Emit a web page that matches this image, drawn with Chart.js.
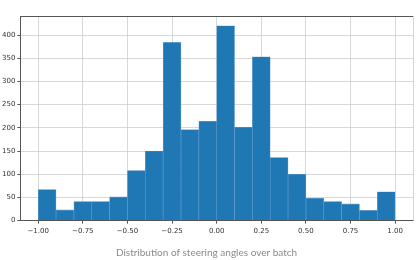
<!DOCTYPE html>
<html>
<head>
<meta charset="utf-8">
<script src="https://cdn.jsdelivr.net/npm/chart.js@4"></script>
<style>
  html, body { margin: 0; padding: 0; background: #fff; }
  #wrap { width: 419px; height: 260px; }
</style>
</head>
<body>
<div id="wrap"><canvas id="histChart"></canvas></div>
<script>
// ===========================
// DATA
// ===========================
const binStarts = [-1.0, -0.9, -0.8, -0.7, -0.6, -0.5, -0.4, -0.3, -0.2, -0.1,
                    0.0,  0.1,  0.2,  0.3,  0.4,  0.5,  0.6,  0.7,  0.8,  0.9];
const counts    = [  67,   23,   41,   41,   51,  108,  150,  384,  196,  214,
                    420,  201,  353,  136,  100,   48,   41,   36,   22,   62];
const binWidth  = 0.1;
const xTicks    = [-1.0, -0.75, -0.5, -0.25, 0.0, 0.25, 0.5, 0.75, 1.0];
const yTicks    = [0, 50, 100, 150, 200, 250, 300, 350, 400];
const titleText = 'Distribution of steering angles over batch';

// ===========================
// FRAME (top + right spines)
// ===========================
const framePlugin = {
  id: 'frame',
  afterDraw(chart) {
    const { ctx, chartArea: a } = chart;
    ctx.save();
    ctx.lineWidth = 1;
    ctx.strokeStyle = '#d6d6d6';
    ctx.beginPath();
    ctx.moveTo(a.right + 0.5, a.top);
    ctx.lineTo(a.right + 0.5, a.bottom);
    ctx.stroke();
    ctx.strokeStyle = '#555';
    ctx.beginPath();
    ctx.moveTo(a.left, a.top + 0.5);
    ctx.lineTo(a.right, a.top + 0.5);
    ctx.stroke();
    ctx.restore();
  }
};

const tickFont = { family: 'DejaVu Sans', size: 7 };
const fmt = v => v.toFixed(2).replace('-', '\u2212');

new Chart(document.getElementById('histChart'), {
  type: 'bar',
  data: {
    datasets: [{
      data: binStarts.map((s, i) => ({ x: s + binWidth / 2, y: counts[i] })),
      backgroundColor: '#1f77b4',
      borderColor: 'rgba(80,145,205,0.8)',
      borderWidth: 0.6,
      barPercentage: 1,
      categoryPercentage: 1,
      grouped: false
    }]
  },
  options: {
    responsive: true,
    maintainAspectRatio: false,
    animation: false,
    layout: { padding: { top: 16, right: 6, left: 0, bottom: 0 } },
    plugins: {
      legend: { display: false },
      tooltip: { enabled: false },
      title: {
        display: true,
        position: 'bottom',
        text: titleText,
        color: '#8a8a8a',
        font: { family: 'Lato', size: 10, weight: 'normal' },
        padding: { top: 9, bottom: 1 }
      }
    },
    scales: {
      x: {
        type: 'linear',
        min: -1.1, max: 1.1,
        offset: false,
        z: 1,
        afterBuildTicks: axis => { axis.ticks = xTicks.map(v => ({ value: v })); },
        ticks: { font: tickFont, color: '#333', padding: 3, maxRotation: 0, callback: v => fmt(v) },
        grid: { offset: false, color: 'rgba(200,200,200,0.7)', tickLength: 3, tickColor: '#555' },
        border: { color: '#555' }
      },
      y: {
        min: 0, max: 441,
        z: 1,
        afterBuildTicks: axis => { axis.ticks = yTicks.map(v => ({ value: v })); },
        ticks: { font: tickFont, color: '#333', padding: 2 },
        grid: { color: 'rgba(200,200,200,0.7)', tickLength: 3, tickColor: '#555' },
        border: { color: '#555' }
      }
    }
  },
  plugins: [framePlugin]
});
</script>
</body>
</html>
